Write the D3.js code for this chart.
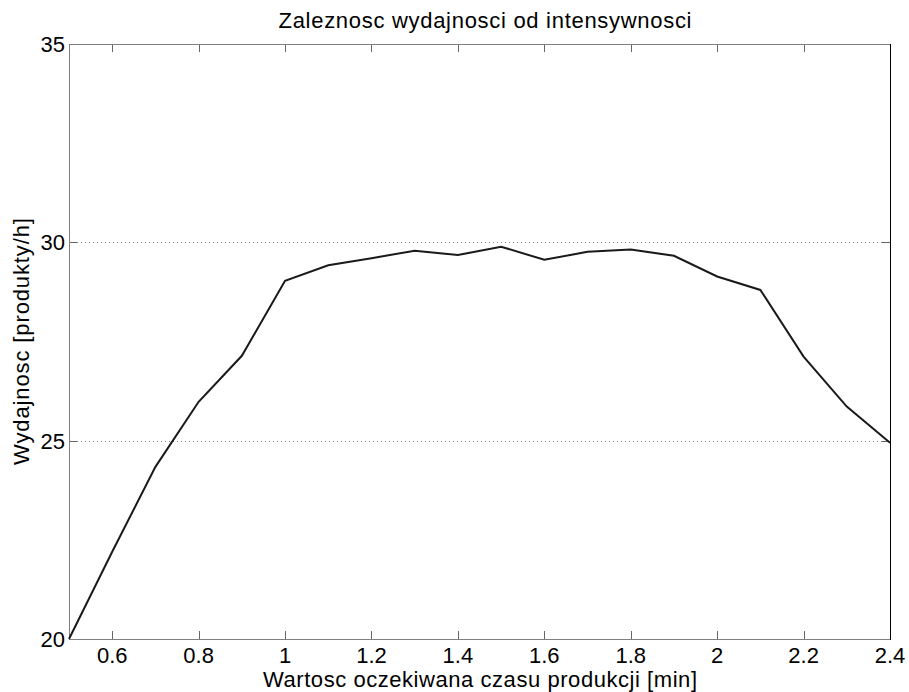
<!DOCTYPE html>
<html>
<head>
<meta charset="utf-8">
<script src="https://cdn.jsdelivr.net/npm/d3@7"></script>
<style>
  body { margin: 0; background: #fff; }
  text { font-family: "Liberation Sans", Arial, sans-serif; fill: #000; }
</style>
</head>
<body>
<div id="chart"></div>
<script>
const czas = [0.5, 0.6, 0.7, 0.8, 0.9, 1.0, 1.1, 1.2, 1.3, 1.4, 1.5, 1.6, 1.7, 1.8, 1.9, 2.0, 2.1, 2.2, 2.3, 2.4];
const wydajnosc = [20.0, 22.2, 24.34, 25.98, 27.14, 29.03, 29.42, 29.6, 29.79, 29.68, 29.89, 29.56, 29.76, 29.82, 29.66, 29.14, 28.8, 27.12, 25.86, 24.95];
const xTicks = [0.6, 0.8, 1, 1.2, 1.4, 1.6, 1.8, 2, 2.2, 2.4];
const yTicks = [20, 25, 30, 35];
const yGrid = [25, 30];

const margin = { top: 44, right: 19, bottom: 53, left: 69 },
  width = 909 - margin.left - margin.right,
  height = 692 - margin.top - margin.bottom;

const svg = d3.select("#chart")
  .append("svg")
  .attr("width", 909)
  .attr("height", 692);

const g = svg.append("g")
  .attr("transform", `translate(${margin.left},${margin.top})`);

const x = d3.scaleLinear().domain([0.5, 2.4]).range([0, width]);
const y = d3.scaleLinear().domain([20, 35]).range([height, 0]);

const data = czas.map((c, i) => ({ c: c, w: wydajnosc[i] }));

// grid
g.selectAll(".grid")
  .data(yGrid)
  .join("line")
  .attr("x1", 0)
  .attr("x2", width)
  .attr("y1", d => Math.round(y(d)) + 0.5)
  .attr("y2", d => Math.round(y(d)) + 0.5)
  .attr("stroke", "#888")
  .attr("stroke-dasharray", "1,3");

// ticks, all pointing inward
const tickLen = 8;
g.selectAll(".xt-b")
  .data(xTicks)
  .join("line")
  .attr("x1", d => Math.round(x(d)) + 0.5)
  .attr("x2", d => Math.round(x(d)) + 0.5)
  .attr("y1", height)
  .attr("y2", height - tickLen)
  .attr("stroke", "#666");
g.selectAll(".xt-t")
  .data(xTicks)
  .join("line")
  .attr("x1", d => Math.round(x(d)) + 0.5)
  .attr("x2", d => Math.round(x(d)) + 0.5)
  .attr("y1", 0)
  .attr("y2", tickLen)
  .attr("stroke", "#666");
g.selectAll(".yt-l")
  .data(yTicks)
  .join("line")
  .attr("x1", 0)
  .attr("x2", tickLen)
  .attr("y1", d => Math.round(y(d)) + 0.5)
  .attr("y2", d => Math.round(y(d)) + 0.5)
  .attr("stroke", "#666");
g.selectAll(".yt-r")
  .data(yTicks)
  .join("line")
  .attr("x1", width)
  .attr("x2", width - tickLen)
  .attr("y1", d => Math.round(y(d)) + 0.5)
  .attr("y2", d => Math.round(y(d)) + 0.5)
  .attr("stroke", "#666");

// frame
g.append("path")
  .attr("d", `M${width},0.5H0.5V${height + 0.5}H${width}`)
  .attr("fill", "none")
  .attr("stroke", "#808080");
g.append("line")
  .attr("x1", width + 0.5).attr("x2", width + 0.5)
  .attr("y1", 0).attr("y2", height + 1)
  .attr("stroke", "#000");

// tick labels
g.selectAll(".xl")
  .data(xTicks)
  .join("text")
  .attr("x", d => x(d))
  .attr("y", height + 24)
  .attr("text-anchor", "middle")
  .attr("font-size", 22)
  .text(d => String(d));

g.selectAll(".yl")
  .data(yTicks)
  .join("text")
  .attr("x", -4)
  .attr("y", d => y(d) + 8)
  .attr("text-anchor", "end")
  .attr("font-size", 22)
  .text(d => d);

// line
const line = d3.line()
  .x(d => x(d.c))
  .y(d => y(d.w));

g.append("path")
  .datum(data)
  .attr("fill", "none")
  .attr("stroke", "#1a1a1a")
  .attr("stroke-width", 2)
  .attr("d", line);

// title & labels
svg.append("text")
  .attr("x", 485)
  .attr("y", 28)
  .attr("text-anchor", "middle")
  .attr("font-size", 22)
  .attr("textLength", 413)
  .text("Zaleznosc wydajnosci od intensywnosci");

svg.append("text")
  .attr("x", 480)
  .attr("y", 687)
  .attr("text-anchor", "middle")
  .attr("font-size", 22)
  .attr("textLength", 434)
  .text("Wartosc oczekiwana czasu produkcji [min]");

svg.append("text")
  .attr("transform", `translate(29,${margin.top + height / 2}) rotate(-90)`)
  .attr("text-anchor", "middle")
  .attr("font-size", 22)
  .attr("textLength", 247)
  .text("Wydajnosc [produkty/h]");
</script>
</body>
</html>
